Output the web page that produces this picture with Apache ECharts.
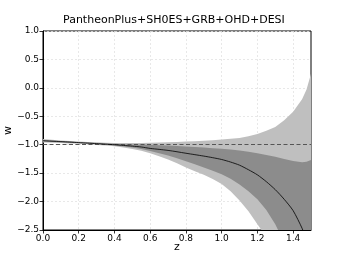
<!DOCTYPE html>
<html>
<head>
<meta charset="utf-8">
<script src="https://cdn.jsdelivr.net/npm/echarts@6/dist/echarts.min.js"></script>
<style>html,body{margin:0;padding:0;background:#fff;}#c{width:345px;height:259px;}</style>
</head>
<body>
<div id="c"></div>
<script>
const titleText = 'PantheonPlus+SH0ES+GRB+OHD+DESI';
const zVals = [0, 0.05, 0.1, 0.15, 0.2, 0.25, 0.3, 0.35, 0.4, 0.45, 0.5, 0.55, 0.6, 0.65, 0.7, 0.75, 0.8, 0.85, 0.9, 0.95, 1.0, 1.05, 1.1, 1.15, 1.2, 1.25, 1.3, 1.35, 1.4, 1.45, 1.475, 1.5];
const wMean = [-0.930, -0.938, -0.946, -0.954, -0.963, -0.972, -0.981, -0.990, -1.000, -1.012, -1.025, -1.040, -1.065, -1.082, -1.100, -1.124, -1.150, -1.175, -1.200, -1.228, -1.260, -1.305, -1.360, -1.440, -1.530, -1.650, -1.790, -1.960, -2.160, -2.470, -2.680, -2.900];
const hi1 = [-0.915, -0.925, -0.935, -0.945, -0.955, -0.963, -0.971, -0.978, -0.985, -0.990, -0.995, -0.998, -1.000, -1.008, -1.015, -1.022, -1.030, -1.040, -1.050, -1.060, -1.070, -1.085, -1.100, -1.125, -1.150, -1.180, -1.210, -1.250, -1.285, -1.310, -1.300, -1.270];
const hi2 = [-0.900, -0.912, -0.925, -0.935, -0.945, -0.952, -0.958, -0.964, -0.968, -0.970, -0.970, -0.968, -0.966, -0.962, -0.957, -0.951, -0.945, -0.938, -0.930, -0.920, -0.910, -0.897, -0.880, -0.852, -0.810, -0.755, -0.690, -0.570, -0.420, -0.200, -0.030, 0.250];
const lo1 = [-0.945, -0.951, -0.957, -0.964, -0.971, -0.980, -0.990, -1.000, -1.013, -1.030, -1.050, -1.075, -1.110, -1.148, -1.190, -1.238, -1.290, -1.343, -1.400, -1.460, -1.520, -1.600, -1.700, -1.820, -1.960, -2.150, -2.400, -2.720, -3.100, -3.550, -3.800, -4.100];
const lo2 = [-0.960, -0.966, -0.972, -0.978, -0.984, -0.994, -1.004, -1.015, -1.028, -1.048, -1.075, -1.108, -1.150, -1.203, -1.260, -1.328, -1.400, -1.465, -1.530, -1.605, -1.690, -1.820, -1.980, -2.170, -2.400, -2.620, -2.950, -3.300, -3.700, -4.150, -4.400, -4.650];
const refW = -1;
const xTicks = [0, 0.2, 0.4, 0.6, 0.8, 1.0, 1.2, 1.4];

const FONT = 'DejaVu Sans';
const LIGHT = '#bfbfbf';
const DARK = '#8c8c8c';
const pairs = (arr) => zVals.map((z, i) => [z, arr[i]]);
const fmt = v => (Math.abs(v) < 1e-9 ? 0 : v).toFixed(1).replace('-', '\u2212');

// band polygon between two bounds, drawn through the chart's own coordinate system
function bandSeries(upper, lower, color, zIndex) {
  return {
    type: 'custom', silent: true, z: zIndex,
    data: [[0, 0]],
    renderItem: function (params, api) {
      const pts = [];
      for (let i = 0; i < zVals.length; i++) pts.push(api.coord([zVals[i], upper[i]]));
      for (let i = zVals.length - 1; i >= 0; i--) pts.push(api.coord([zVals[i], lower[i]]));
      const cs = params.coordSys;
      return {
        type: 'group',
        clipPath: { type: 'rect', shape: { x: cs.x, y: cs.y, width: cs.width, height: cs.height } },
        children: [{
          type: 'polygon',
          shape: { points: pts },
          style: { fill: color, stroke: null }
        }]
      };
    }
  };
}

const nameOnlyAxis = {
  axisLine: { show: false }, axisTick: { show: false },
  axisLabel: { show: false }, splitLine: { show: false }
};

const chart = echarts.init(document.getElementById('c'), null, { renderer: 'canvas' });
chart.setOption({
  animation: false,
  backgroundColor: '#fff',
  textStyle: { fontFamily: FONT },
  title: {
    text: titleText, left: 58, top: 10,
    textStyle: { fontFamily: FONT, fontSize: 11, fontWeight: 'normal', color: '#000' }
  },
  grid: {
    left: 43, right: 34, top: 31, bottom: 29,
    outerBoundsMode: 'none', containLabel: false,
    show: true, borderColor: '#000', borderWidth: 1, backgroundColor: 'transparent'
  },
  xAxis: [{
    type: 'value', min: 0, max: 1.5, interval: 0.2,
    axisLine: { show: true, onZero: false, lineStyle: { color: '#000', width: 1 } },
    axisTick: { show: true, length: 3.5, lineStyle: { color: '#000', width: 0.8 },
      customValues: xTicks },
    axisLabel: { fontFamily: FONT, fontSize: 9, color: '#000', margin: 4,
      customValues: xTicks, formatter: v => fmt(v) },
    splitLine: { show: true, lineStyle: { color: '#e3e3e3', type: [2, 2], width: 0.8 } }
  }, Object.assign({
    type: 'value', min: 0, max: 1.5, position: 'bottom',
    name: 'z', nameLocation: 'middle', nameGap: 12,
    nameTextStyle: { fontFamily: FONT, fontSize: 11, color: '#000' }
  }, nameOnlyAxis)],
  yAxis: [{
    type: 'value', min: -2.5, max: 1.0, interval: 0.5,
    axisLine: { show: true, onZero: false, lineStyle: { color: '#000', width: 1 } },
    axisTick: { show: true, length: 3.5, lineStyle: { color: '#000', width: 0.8 } },
    axisLabel: { fontFamily: FONT, fontSize: 9, color: '#000', margin: 4,
      formatter: v => fmt(v) },
    splitLine: { show: true, lineStyle: { color: '#e3e3e3', type: [2, 2], width: 0.8 } }
  }, Object.assign({
    type: 'value', min: -2.5, max: 1.0, position: 'left',
    name: 'w', nameLocation: 'middle', nameGap: 29, nameRotate: 90,
    nameTextStyle: { fontFamily: FONT, fontSize: 11, color: '#000' }
  }, nameOnlyAxis)],
  series: [
    bandSeries(hi2, lo2, LIGHT, 1),
    bandSeries(hi1, lo1, DARK, 2),
    {
      type: 'line', name: 'mean', data: pairs(wMean), symbol: 'none', smooth: 0.25,
      lineStyle: { color: '#000', width: 0.8 }, z: 5,
      markLine: {
        silent: true, symbol: 'none', label: { show: false },
        lineStyle: { color: '#555', type: [4, 2.5], width: 1.1 },
        data: [{ yAxis: refW }]
      }
    }
  ]
});
</script>
</body>
</html>
